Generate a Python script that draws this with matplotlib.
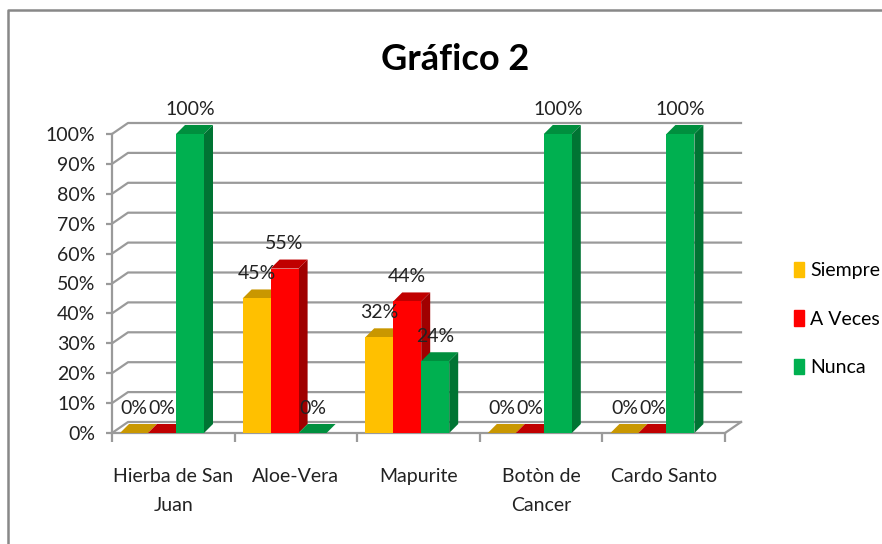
import matplotlib.pyplot as plt
from matplotlib.patches import Polygon, Patch
from matplotlib.lines import Line2D

plt.rcParams['font.family'] = ['Lato', 'DejaVu Sans']

categorias = ['Hierba de San\nJuan', 'Aloe-Vera', 'Mapurite', 'Botòn de\nCancer', 'Cardo Santo']
series = ['Siempre', 'A Veces', 'Nunca']
siempre = [0, 45, 32, 0, 0]
a_veces = [0, 55, 44, 0, 0]
nunca = [100, 0, 24, 100, 100]
valores = [siempre, a_veces, nunca]

# front / top / side colours, like the excel 3d bars
frente = ['#FFC000', '#FF0000', '#00B050']
arriba = ['#C99700', '#C00000', '#008F3E']
lado = ['#A87E00', '#A00000', '#007433']

fig = plt.figure(figsize=(8.82, 5.44), dpi=100)
ax = fig.add_axes([112/882, 111/544, 613/882, 299/544])
ax.set_xlim(0, 5)
ax.set_ylim(0, 100)

# depth of walls and bars (data units)
wdx, wdy = 16/122.6, 11/2.99
bdx, bdy = 9/122.6, 9/2.99
ancho = 28/122.6
inicio = 8/122.6
gris = '#9A9A9A'

# back wall gridlines and side wall diagonals
for t in range(0, 101, 10):
    ax.plot([0, wdx, 5 + wdx], [t, t + wdy, t + wdy], color=gris, lw=1.6, clip_on=False, zorder=1)
ax.plot([5, 5 + wdx], [0, wdy], color=gris, lw=1.6, clip_on=False, zorder=1)

for i, vals in enumerate(valores):
    for c, v in enumerate(vals):
        x = c + inicio + i*ancho
        z = 3 + i
        top = Polygon([(x, v), (x + ancho, v), (x + ancho + bdx, v + bdy), (x + bdx, v + bdy)],
                      closed=True, fc=arriba[i], ec='none', clip_on=False, zorder=z)
        ax.add_patch(top)
        if v > 0:
            side = Polygon([(x + ancho, 0), (x + ancho, v), (x + ancho + bdx, v + bdy), (x + ancho + bdx, bdy)],
                           closed=True, fc=lado[i], ec='none', clip_on=False, zorder=z)
            ax.add_patch(side)
            ax.bar(x, v, width=ancho, align='edge', color=frente[i], zorder=z)
        ax.text(x + ancho/2, v + 8.3, f'{v}%', ha='center', va='center', fontsize=14,
                color='#222222', zorder=10)

for s in ['top', 'right']:
    ax.spines[s].set_visible(False)
for s in ['left', 'bottom']:
    ax.spines[s].set_color(gris)
    ax.spines[s].set_linewidth(1.6)
    ax.spines[s].set_zorder(2)

ax.set_yticks(range(0, 101, 10))
ax.set_yticklabels([f'{t}%' for t in range(0, 101, 10)])
ax.tick_params(axis='y', length=4.5, width=1.6, color=gris, labelsize=14, labelcolor='#222222', pad=7.5)
ax.set_xticks(range(6))
ax.set_xticklabels([''] * 6)
ax.tick_params(axis='x', which='major', length=6.5, width=1.6, color=gris)
ax.set_xticks([c + 0.5 for c in range(5)], minor=True)
ax.set_xticklabels(categorias, minor=True, fontsize=14, color='#222222', linespacing=1.9)
ax.tick_params(axis='x', which='minor', length=0, pad=25)

handles = [Patch(color=frente[i], label=series[i]) for i in range(3)]
fig.legend(handles=handles, loc='center left', bbox_to_anchor=(776/882, 1 - 319/544), frameon=False,
           fontsize=14, handlelength=0.55, handleheight=0.85, handletextpad=0.3, labelspacing=1.6)

fig.text(455/882, 1 - 60/544, 'Gráfico 2', ha='center', va='center', fontsize=26, fontweight='bold')

# chart border (only top and left show)
fig.add_artist(Line2D([8/882, 8/882, 1], [0, 1 - 10/544, 1 - 10/544], color='#888888', lw=1.8))

fig.savefig('out.png', dpi=100)
